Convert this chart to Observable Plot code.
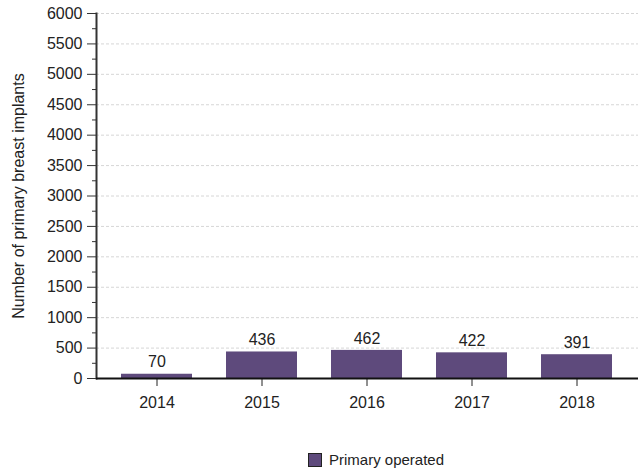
<!DOCTYPE html>
<html><head><meta charset="utf-8">
<script src="https://cdn.jsdelivr.net/npm/d3@7"></script>
<script src="https://cdn.jsdelivr.net/npm/@observablehq/plot@0.6"></script>
<style>
body{margin:0;background:#fff;font-family:"Liberation Sans",Arial,sans-serif;}
#wrap{position:relative;width:638px;height:470px;}
#legend{position:absolute;left:308px;top:451px;display:flex;align-items:center;font-size:15px;color:#222;}
#legend .sw{width:12px;height:12px;background:#5e4a7c;border:1px solid #222;margin-right:7px;}
</style></head><body><div id="wrap"><div id="chart"></div>
<div id="legend"><span class="sw"></span><span>Primary operated</span></div></div>
<script>
const years = ["2014","2015","2016","2017","2018"];
const counts = [70,436,462,422,391];
const yTicks = d3.range(0,6001,500);
const yMinor = d3.range(250,6000,500);
const data = years.map((y,i)=>({year:y,count:counts[i]}));
const plot = Plot.plot({
  width:638, height:420, marginLeft:96, marginRight:0, marginTop:13, marginBottom:42,
  style:{fontFamily:"Liberation Sans, Arial, sans-serif", fontSize:"16px", color:"#222", background:"#fff"},
  x:{domain:years, paddingInner:0.32, paddingOuter:0, insetLeft:24, insetRight:24, label:null},
  y:{domain:[0,6000], label:null},
  marks:[
    Plot.gridY(yTicks.slice(1), {stroke:"#d6d6d6", strokeDasharray:"3,2", strokeOpacity:1}),
    Plot.barY(data,{x:"year", y:"count", fill:"#5e4a7c"}),
    Plot.text(data,{x:"year", y:"count", text:d=>String(d.count), dy:-12, fontSize:16, fill:"#222"}),
    Plot.axisY(yTicks,{tickSize:9, tickPadding:5, fontSize:16, tickFormat:d3.format("d"), label:"Number of primary breast implants", labelArrow:"none", labelAnchor:"center", labelOffset:84, stroke:"#333"}),
    Plot.axisY(yMinor,{tickSize:4, tickFormat:()=>"", label:null, stroke:"#333"}),
    Plot.axisX({tickSize:8, tickPadding:10, fontSize:16, label:null, stroke:"#222"}),
    Plot.frame({anchor:"left", stroke:"#333", strokeWidth:2}),
    Plot.ruleY([0], {stroke:"#111", strokeWidth:2})
  ]
});
document.getElementById("chart").appendChild(plot);
</script></body></html>
